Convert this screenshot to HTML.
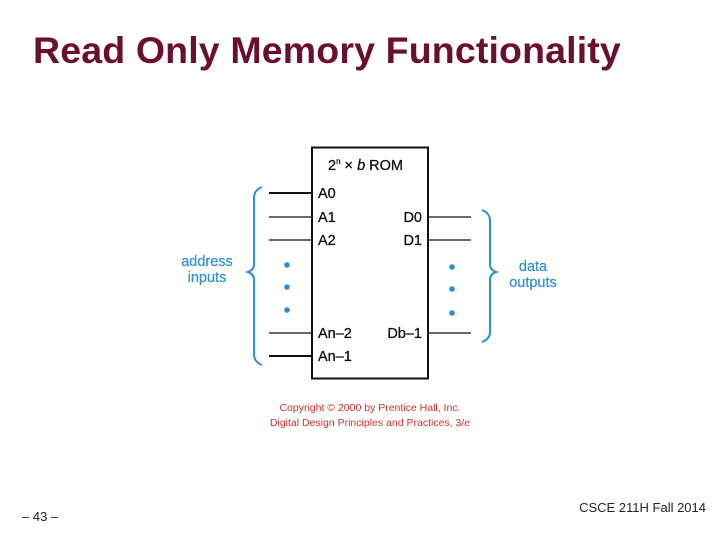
<!DOCTYPE html>
<html><head><style>
body{margin:0;width:720px;height:540px;background:#fff;position:relative;overflow:hidden;font-family:"Liberation Sans",sans-serif}
.t{position:absolute;white-space:nowrap}
</style></head><body>
<div class="t" style="left:33px;top:29px;font-size:37.5px;font-weight:bold;color:#6b0f2e;letter-spacing:0.15px;">Read Only Memory Functionality</div>
<svg width="720" height="540" style="position:absolute;left:0;top:0" font-family="Liberation Sans, sans-serif">
<rect x="312" y="147.5" width="116" height="231" fill="none" stroke="#111" stroke-width="2"/>
<g stroke="#111" stroke-width="1.3">
<line x1="269" y1="193" x2="312" y2="193" stroke-width="2"/>
<line x1="269" y1="217" x2="312" y2="217"/>
<line x1="269" y1="240" x2="312" y2="240"/>
<line x1="269" y1="333" x2="312" y2="333"/>
<line x1="269" y1="356" x2="312" y2="356" stroke-width="2"/>
<line x1="428" y1="217" x2="471" y2="217"/>
<line x1="428" y1="240" x2="471" y2="240"/>
<line x1="428" y1="333" x2="471" y2="333"/>
</g>
<g font-size="14.5" fill="#111" stroke="#111" stroke-width="0.3">
<text x="328" y="170">2<tspan font-size="8" dy="-6">n</tspan><tspan dy="6"> × </tspan><tspan font-style="italic">b</tspan> ROM</text>
<text x="318" y="198">A0</text>
<text x="318" y="222">A1</text>
<text x="318" y="245">A2</text>
<text x="318" y="338">An–2</text>
<text x="318" y="361">An–1</text>
<text x="422" y="222" text-anchor="end">D0</text>
<text x="422" y="245" text-anchor="end">D1</text>
<text x="422" y="338" text-anchor="end">Db–1</text>
</g>
<g fill="none" stroke="#2a8fd6" stroke-width="2">
<path d="M262 187 Q254 190 254 198 L254 264 Q254 270 248 272 Q254 274 254 280 L254 354 Q254 362 262 365"/>
<path d="M482 210 Q490 213 490 221 L490 264 Q490 270 496 272 Q490 274 490 280 L490 332 Q490 339 482 342"/>
</g>
<g fill="#2a8fd6">
<circle cx="287" cy="265" r="2.8"/><circle cx="287" cy="287" r="2.8"/><circle cx="287" cy="310" r="2.8"/>
<circle cx="452" cy="267" r="2.8"/><circle cx="452" cy="289" r="2.8"/><circle cx="452" cy="313" r="2.8"/>
</g>
<g font-size="14.5" fill="#2a8fd6" text-anchor="middle" stroke="#2a8fd6" stroke-width="0.2">
<text x="207" y="266">address</text><text x="207" y="282">inputs</text>
<text x="533" y="271">data</text><text x="533" y="287">outputs</text>
</g>
<g font-size="10.5" fill="#d03030" text-anchor="middle">
<text x="370" y="411">Copyright © 2000 by Prentice Hall, Inc.</text>
<text x="370" y="426">Digital Design Principles and Practices, 3/e</text>
</g>
<text x="22" y="521" font-size="13" fill="#222">– 43 –</text>
<text x="706" y="512" font-size="13" fill="#222" text-anchor="end">CSCE 211H Fall 2014</text>
</svg>
</body></html>
